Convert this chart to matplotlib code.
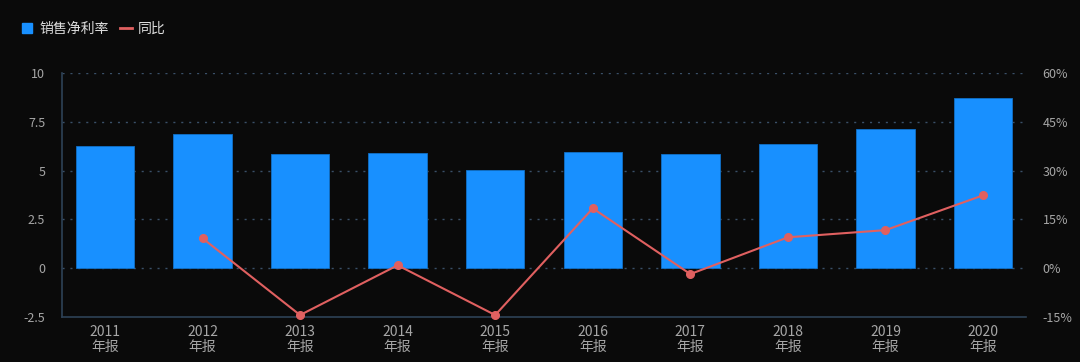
import matplotlib
matplotlib.use("Agg")
import matplotlib.pyplot as plt
from matplotlib.lines import Line2D

plt.rcParams['font.family'] = ['Noto Sans CJK SC', 'DejaVu Sans']

years = ["2011", "2012", "2013", "2014", "2015", "2016", "2017", "2018", "2019", "2020"]
x_labels = [y + "\n年报" for y in years]
net_margin = [6.26, 6.87, 5.85, 5.90, 5.03, 5.95, 5.85, 6.36, 7.13, 8.72]
yoy_pct = [None, 9.2, -14.4, 0.9, -14.4, 18.4, -1.8, 9.5, 11.7, 22.4]
left_ticks = [-2.5, 0, 2.5, 5, 7.5, 10]
left_tick_labels = ["-2.5", "0", "2.5", "5", "7.5", "10"]
right_ticks = [-15, 0, 15, 30, 45, 60]
right_tick_labels = ["-15%", "0%", "15%", "30%", "45%", "60%"]

bg = "#0a0a0a"
bar_color = "#1890ff"
line_color = "#e06060"
grid_color = "#3a5068"
tick_color = "#a6a6a6"

fig = plt.figure(figsize=(10.8, 3.62), dpi=100, facecolor=bg)
ax = fig.add_axes([62 / 1080, 45 / 362, (1026 - 62) / 1080, (317 - 73) / 362])
ax.set_facecolor(bg)

xs = list(range(len(years)))
ax.bar(xs, net_margin, width=0.6, color=bar_color, edgecolor="#1070c8", linewidth=0.6, zorder=2)
ax.set_xlim(-0.44, 9.44)
ax.set_ylim(-2.5, 10)
ax.set_yticks(left_ticks)
ax.set_yticklabels(left_tick_labels)
ax.set_xticks(xs)
ax.set_xticklabels(x_labels, linespacing=1.05)

for t in left_ticks[1:]:
    ax.axhline(t, color=grid_color, linestyle=(0, (1.5, 4.2)), linewidth=1.0, zorder=1)

for s in ["top", "right"]:
    ax.spines[s].set_visible(False)
ax.spines["left"].set_color("#2e4256")
ax.spines["bottom"].set_color("#2e4256")
ax.spines["left"].set_linewidth(1.2)
ax.spines["bottom"].set_linewidth(1.2)
ax.tick_params(axis="y", length=0, colors=tick_color, labelsize=9, pad=12)
ax.tick_params(axis="x", length=0, colors=tick_color, labelsize=10, pad=6)

ax2 = ax.twinx()
ax2.set_ylim(-15, 60)
ax2.set_yticks(right_ticks)
ax2.set_yticklabels(right_tick_labels)
for s in ["top", "right", "left", "bottom"]:
    ax2.spines[s].set_visible(False)
ax2.tick_params(axis="y", length=0, colors=tick_color, labelsize=9, pad=12)
lx = [x for x, v in zip(xs, yoy_pct) if v is not None]
ly = [v for v in yoy_pct if v is not None]
ax2.plot(lx, ly, color=line_color, linewidth=1.5, marker="o", markersize=5.5, zorder=3, clip_on=False)

handles = [
    Line2D([0], [0], marker="s", color="none", markerfacecolor=bar_color, markeredgecolor=bar_color, markersize=7),
    Line2D([0], [0], color=line_color, linewidth=2),
]
fig.legend(handles, ["销售净利率", "同比"], loc="upper left", bbox_to_anchor=(0.008, 0.975),
           ncol=2, frameon=False, fontsize=10, labelcolor="#dddddd",
           handlelength=0.9, handletextpad=0.4, columnspacing=0.8)

fig.savefig("out.png", dpi=100, facecolor=bg)
